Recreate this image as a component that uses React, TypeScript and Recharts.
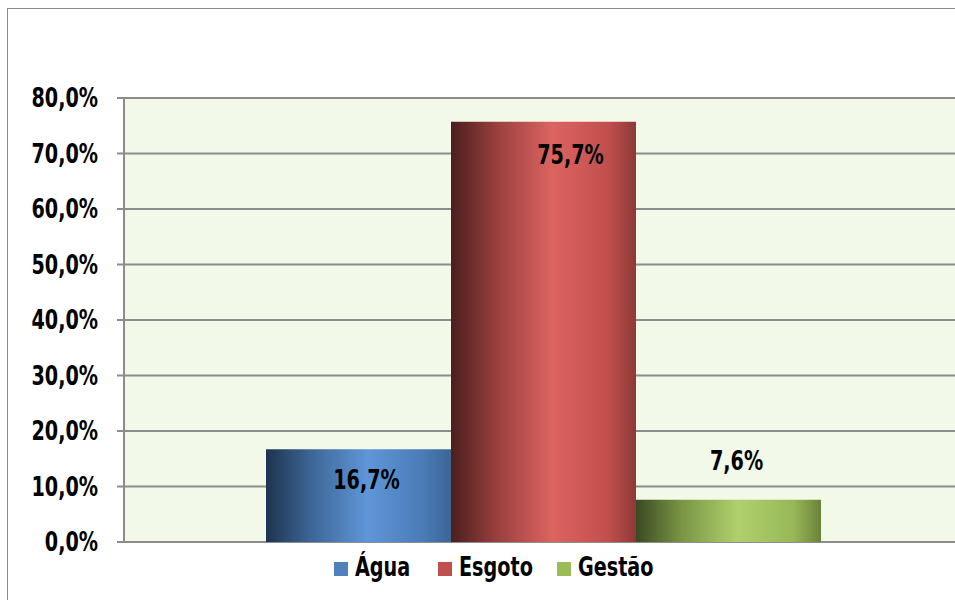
import React from "react";
import { BarChart, Bar, XAxis, YAxis, CartesianGrid, LabelList } from "recharts";

const categories = ["Água", "Esgoto", "Gestão"];
const values = [16.7, 75.7, 7.6];
const yTicks = [0, 10, 20, 30, 40, 50, 60, 70, 80];

const colors = ["#4F81BD", "#C0504D", "#9BBB59"];
const gradients = [
  ["#1e3450", "#3e6798", "#5f96d8", "#4a7bb6", "#3c6595"],
  ["#4a1f1e", "#9a403e", "#dc6461", "#c04f4c", "#8e3a38"],
  ["#3a4a22", "#7a9646", "#afd06c", "#98b858", "#6a8238"],
];
const labelOffsets = [
  { dx: 8, dy: 30 },
  { dx: 27, dy: 33 },
  { dx: 8, dy: -39 },
];
const legendPos = [
  { sq: 334, tx: 355 },
  { sq: 438, tx: 459 },
  { sq: 557, tx: 578 },
];

const row: Record<string, any> = { name: "Total" };
categories.forEach((c, i) => (row[c] = values[i]));
const data = [row];

const FONT = "'DejaVu Sans Condensed', 'Liberation Sans Narrow', sans-serif";
const FS = 27;
const SX = 0.79;

const fmt = (v: number) => v.toFixed(1).replace(".", ",") + "%";

const NarrowText = ({ x, y, anchor, children }: any) => (
  <text
    transform={`translate(${x},${y}) scale(${SX},1)`}
    textAnchor={anchor}
    dominantBaseline="central"
    fontFamily={FONT}
    fontWeight="bold"
    fontSize={FS}
    fill="#000"
  >
    {children}
  </text>
);

const makeLabel = (i: number) => (props: any) => {
  const { x, y, width, value } = props;
  const cx = x + width / 2 + labelOffsets[i].dx;
  const cy = y + labelOffsets[i].dy;
  return <NarrowText x={cx} y={cy} anchor="middle">{fmt(value)}</NarrowText>;
};

const YTick = (props: any) => {
  const { x, y, payload } = props;
  return <NarrowText x={x} y={y} anchor="end">{fmt(payload.value)}</NarrowText>;
};

export default function App() {
  return (
    <div style={{ position: "absolute", left: 0, top: 0, width: 955, height: 600, overflow: "hidden", background: "#fff" }}>
      <div
        style={{
          position: "absolute",
          left: 7,
          top: 8,
          width: 1000,
          height: 1000,
          border: "1.5px solid #8a8a8a",
        }}
      />
      <div style={{ position: "absolute", left: 0, top: 0 }}>
        <BarChart
          width={970}
          height={600}
          data={data}
          margin={{ top: 98, right: 8, bottom: 58, left: 0 }}
          barGap={0}
        >
          <defs>
            {gradients.map((g, i) => (
              <linearGradient key={i} id={`grad${i}`} x1="0" y1="0" x2="1" y2="0">
                <stop offset="0%" stopColor={g[0]} />
                <stop offset="25%" stopColor={g[1]} />
                <stop offset="55%" stopColor={g[2]} />
                <stop offset="85%" stopColor={g[3]} />
                <stop offset="100%" stopColor={g[4]} />
              </linearGradient>
            ))}
          </defs>
          <CartesianGrid
            vertical={false}
            stroke="#8c8c8c"
            strokeWidth={2}
            fill="#F3F9E9"
            strokeOpacity={1}
          />
          <XAxis
            dataKey="name"
            tick={false}
            tickLine={false}
            axisLine={{ stroke: "#8c8c8c", strokeWidth: 2 }}
            height={0}
          />
          <YAxis
            width={124}
            domain={[0, 80]}
            ticks={yTicks}
            interval={0}
            tickSize={7}
            tickMargin={19}
            axisLine={{ stroke: "#8c8c8c", strokeWidth: 2 }}
            tickLine={{ stroke: "#8c8c8c", strokeWidth: 2 }}
            tick={<YTick />}
          />
          {categories.map((c, i) => (
            <Bar key={c} dataKey={c} barSize={185} fill={`url(#grad${i})`} isAnimationActive={false}>
              <LabelList dataKey={c} content={makeLabel(i)} />
            </Bar>
          ))}
        </BarChart>
      </div>
      <svg style={{ position: "absolute", left: 0, top: 0 }} width={955} height={600}>
        {categories.map((c, i) => (
          <g key={c}>
            <rect x={legendPos[i].sq} y={562} width={14} height={14} fill={colors[i]} />
            <NarrowText x={legendPos[i].tx} y={567} anchor="start">{c}</NarrowText>
          </g>
        ))}
      </svg>
    </div>
  );
}
